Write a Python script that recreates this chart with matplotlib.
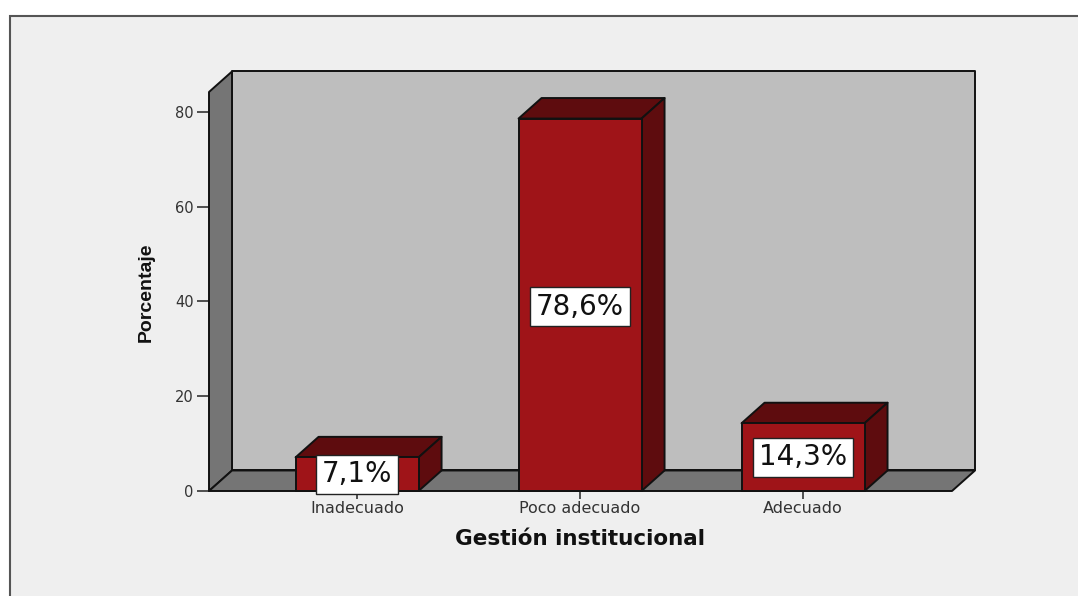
import matplotlib
matplotlib.use("Agg")
import matplotlib.pyplot as plt
from matplotlib.patches import Polygon, Rectangle

categories = ["Inadecuado", "Poco adecuado", "Adecuado"]
values = [7.1, 78.6, 14.3]
labels = ["7,1%", "78,6%", "14,3%"]
yticks = [0, 20, 40, 60, 80]

W, H = 1078, 596
fig = plt.figure(figsize=(W / 100, H / 100), dpi=100, facecolor="white")

# grey panel behind the chart
fig.patches.append(Rectangle((10 / W, -0.05), 1.0, 1.05 - 16 / H, transform=fig.transFigure,
                             facecolor="#efefef", edgecolor="#555555", linewidth=1.5,
                             zorder=-1))

# front plane of the fake 3d box
ax = fig.add_axes([209 / W, 1 - 491 / H, (952 - 209) / W, (491 - 92) / H])
ax.set_xlim(-0.664, 2.668)
ax.set_ylim(0, 84.2)
ax.patch.set_visible(False)
for s in ax.spines.values():
    s.set_visible(False)

# depth of the box in data units
dx = 23 / 223
dy = 20.5 / 4.7375
x0, x1 = ax.get_xlim()
y1 = ax.get_ylim()[1]
bar_w = 123 / 223


def poly(pts, color, z):
    ax.add_patch(Polygon(pts, closed=True, facecolor=color, edgecolor="#111111",
                         linewidth=1.4, zorder=z, clip_on=False, joinstyle="round"))


poly([(x0 + dx, dy), (x1 + dx, dy), (x1 + dx, y1 + dy), (x0 + dx, y1 + dy)], "#bebebe", 1)
poly([(x0, 0), (x0 + dx, dy), (x0 + dx, y1 + dy), (x0, y1)], "#757575", 2)
poly([(x0, 0), (x1, 0), (x1 + dx, dy), (x0 + dx, dy)], "#757575", 2)

for i, v in enumerate(values):
    l = i - bar_w / 2
    r = i + bar_w / 2
    poly([(l, v), (r, v), (r + dx, v + dy), (l + dx, v + dy)], "#5e0c0e", 3)
    poly([(r, 0), (r + dx, dy), (r + dx, v + dy), (r, v)], "#5e0c0e", 3)

ax.bar(range(3), values, width=bar_w, color="#9f1418", edgecolor="#111111",
       linewidth=1.4, zorder=4, clip_on=False)

for i, v in enumerate(values):
    ax.text(i, v / 2 - (0.4 if v > 50 else 0), labels[i], ha="center", va="center",
            fontsize=20, family="DejaVu Sans", color="#111111", zorder=5,
            bbox=dict(boxstyle="square,pad=0.2", facecolor="white",
                      edgecolor="#222222", linewidth=1))

ax.set_xticks(range(3))
ax.set_xticklabels(categories)
ax.set_yticks(yticks)
ax.tick_params(axis="x", length=6, width=1.2, color="#333333", pad=1.5,
               labelsize=11.5, labelcolor="#333333")
ax.tick_params(axis="y", length=9, width=1.2, color="#333333", pad=2,
               labelsize=10.5, labelcolor="#333333")
for t in ax.get_xticklabels() + ax.get_yticklabels():
    t.set_family("DejaVu Sans")

fig.text(580 / W, 1 - 539 / H, "Gestión institucional", ha="center", va="center",
         fontsize=15.5, fontweight="bold", family="DejaVu Sans", color="#111111")
fig.text(146 / W, 1 - 292 / H, "Porcentaje", rotation=90, ha="center", va="center",
         fontsize=14, fontweight="bold", family=["Liberation Sans Narrow", "Liberation Sans"],
         color="#111111")

fig.savefig("out.png", dpi=100)
